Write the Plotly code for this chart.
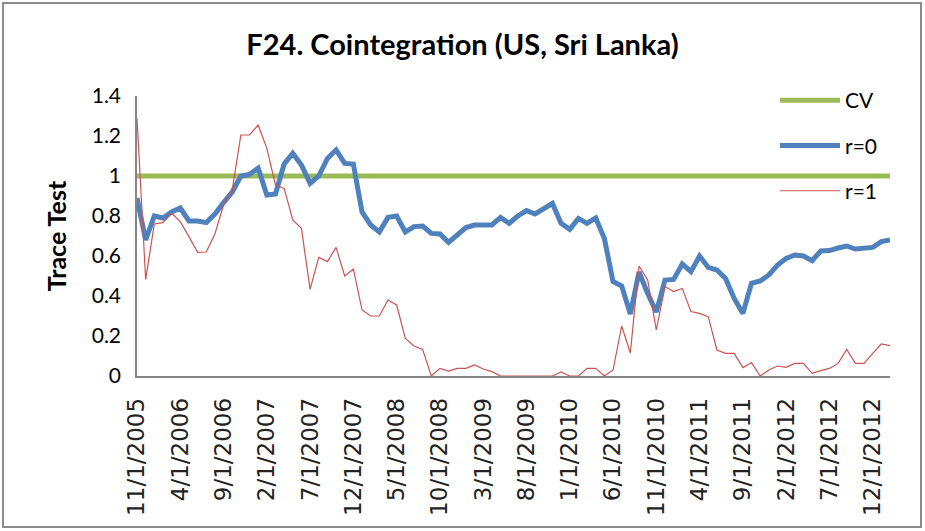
import plotly.graph_objects as go
import pandas as pd

# Monthly observations, 11/1/2005 .. 2/1/2013
months = pd.date_range("2005-11-01", periods=88, freq="MS")
categories = [f"{m.month}/1/{m.year}" for m in months]

cv_value = 1.0
cv = [cv_value] * len(categories)

r0 = [0.89, 0.68, 0.80, 0.79, 0.82, 0.84, 0.775, 0.775, 0.767, 0.81,
      0.867, 0.92, 1.00, 1.008, 1.04, 0.905, 0.91, 1.06, 1.113, 1.055,
      0.963, 1.00, 1.088, 1.13, 1.063, 1.06, 0.82, 0.755, 0.72, 0.793,
      0.80, 0.72, 0.747, 0.75, 0.713, 0.71, 0.668, 0.705, 0.742, 0.755,
      0.755, 0.755, 0.793, 0.763, 0.80, 0.827, 0.81, 0.833, 0.863, 0.763,
      0.733, 0.788, 0.763, 0.79, 0.688, 0.472, 0.45, 0.31, 0.52, 0.413,
      0.32, 0.48, 0.483, 0.56, 0.522, 0.60, 0.543, 0.53, 0.488, 0.388,
      0.313, 0.463, 0.475, 0.505, 0.555, 0.588, 0.605, 0.60, 0.577, 0.625,
      0.627, 0.64, 0.65, 0.635, 0.64, 0.643, 0.672, 0.68]

r1 = [1.288, 0.483, 0.76, 0.767, 0.813, 0.772, 0.697, 0.618, 0.62, 0.71,
      0.855, 0.93, 1.205, 1.205, 1.255, 1.138, 0.955, 0.938, 0.78, 0.738,
      0.433, 0.593, 0.572, 0.643, 0.50, 0.535, 0.33, 0.30, 0.30, 0.38,
      0.355, 0.188, 0.15, 0.133, 0.0, 0.038, 0.025, 0.038, 0.038, 0.055,
      0.035, 0.022, 0.0, 0.0, 0.0, 0.0, 0.0, 0.0, 0.0, 0.02,
      0.0, 0.0, 0.038, 0.038, 0.0, 0.03, 0.25, 0.115, 0.55, 0.48,
      0.23, 0.447, 0.422, 0.438, 0.322, 0.313, 0.297, 0.13, 0.113, 0.113,
      0.042, 0.067, 0.0, 0.03, 0.05, 0.043, 0.063, 0.063, 0.013, 0.027,
      0.038, 0.063, 0.133, 0.063, 0.063, 0.113, 0.16, 0.152]

tick_labels = categories[::5]
y_ticks = [0, 0.2, 0.4, 0.6, 0.8, 1, 1.2, 1.4]
y_tick_text = ["0", "0.2", "0.4", "0.6", "0.8", "1", "1.2", "1.4"]

W, H = 925, 531
L, R, T, B = 137, 35, 96, 155
pw, ph = W - L - R, H - T - B

fig = go.Figure()
fig.add_trace(go.Scatter(x=categories, y=cv, mode="lines", name="CV", legendgroup="a",
                         line=dict(color="#9BBB59", width=5)))
fig.add_trace(go.Scatter(x=categories, y=r0, mode="lines", name="r=0", legendgroup="b",
                         line=dict(color="#4F81BD", width=5)))
fig.add_trace(go.Scatter(x=categories, y=r1, mode="lines", name="r=1", legendgroup="c",
                         line=dict(color="#CC5450", width=1.2)))

def px_x(p):
    return (p - L) / pw

def px_y(p):
    return (H - B - p) / ph

fig.add_shape(type="rect", xref="paper", yref="paper",
              x0=px_x(3), x1=px_x(921), y0=px_y(527), y1=px_y(3),
              line=dict(color="#8C8C8C", width=2), fillcolor="rgba(0,0,0,0)", layer="below")

fig.update_layout(
    width=W, height=H,
    margin=dict(l=L, r=R, t=T, b=B),
    paper_bgcolor="white", plot_bgcolor="white",
    title=dict(text="<b>F24. Cointegration (US, Sri Lanka)</b>", x=0.5, xanchor="center",
               y=1 - 45 / H, yanchor="middle",
               font=dict(family="Lato", size=29, color="black")),
    showlegend=True,
    legend=dict(x=px_x(775), y=px_y(80), xanchor="left", yanchor="top",
                bgcolor="rgba(0,0,0,0)", font=dict(family="Lato", size=21, color="black"),
                itemwidth=60, tracegroupgap=15),
    xaxis=dict(type="category", range=[0, len(categories) - 1],
               tickmode="array", tickvals=tick_labels, ticktext=tick_labels,
               tickangle=-90, showgrid=False, zeroline=False,
               showline=True, linecolor="#868686", linewidth=1.5,
               ticks="", ticklabelstandoff=11,
               tickfont=dict(family="DejaVu Sans", size=23, color="#222222")),
    yaxis=dict(range=[0, 1.4], tickmode="array", tickvals=y_ticks, ticktext=y_tick_text,
               showgrid=False, zeroline=False, showline=True, linecolor="#868686", linewidth=1.5,
               ticks="", ticklabelstandoff=10,
               tickfont=dict(family="Lato", size=21, color="black"),
               title=dict(text="<b>Trace Test</b>", standoff=18,
                          font=dict(family="Lato", size=25, color="black"))),
)

fig.write_html("out.html", config={"displayModeBar": False},
               post_script="document.body.style.margin='0';document.body.style.padding='0';")
